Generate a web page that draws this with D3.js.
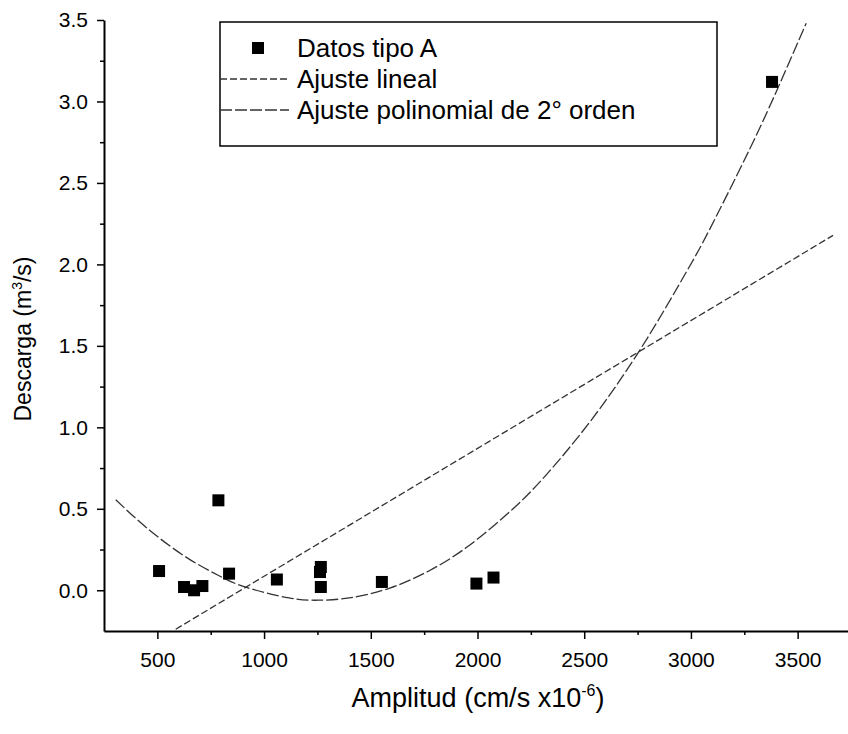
<!DOCTYPE html>
<html>
<head>
<meta charset="utf-8">
<script src="https://cdn.jsdelivr.net/npm/d3@7"></script>
<style>
  body { margin: 0; background: #fff; }
  svg { display: block; }
  text { font-family: "Liberation Sans", Arial, sans-serif; fill: #000; }
</style>
</head>
<body>
<svg id="chart" width="848" height="734"></svg>
<script>
// ---- data ----
const pointX = [508, 625, 672, 711, 786, 836, 1060, 1262, 1266, 1266, 1552, 1995, 2075, 3380];
const pointY = [0.118, 0.02, 0.0, 0.026, 0.552, 0.102, 0.066, 0.112, 0.143, 0.02, 0.051, 0.041, 0.078, 3.12];

const linearX = [586, 3666];
const linearY = [-0.239, 2.178];

const polyX = [305, 399, 508, 649, 789, 914, 1117, 1258, 1399, 1586, 1774, 1961, 2164, 2321, 2524, 2766, 2977, 3086, 3274, 3415, 3540];
const polyY = [0.556, 0.441, 0.322, 0.191, 0.089, 0.019, -0.047, -0.061, -0.047, 0.012, 0.120, 0.275, 0.497, 0.707, 1.029, 1.485, 1.950, 2.211, 2.704, 3.105, 3.480];

const xTicks = [500, 1000, 1500, 2000, 2500, 3000, 3500];
const xMinor = [750, 1250, 1750, 2250, 2750, 3250, 3750];
const yTicks = [0.0, 0.5, 1.0, 1.5, 2.0, 2.5, 3.0, 3.5];
const yMinor = [0.25, 0.75, 1.25, 1.75, 2.25, 2.75, 3.25];

const legendLabels = ["Datos tipo A", "Ajuste lineal", "Ajuste polinomial de 2° orden"];

// ---- drawing ----
const svg = d3.select("#chart");
const x = d3.scaleLinear().domain([250, 3750]).range([104, 851]);
const y = d3.scaleLinear().domain([-0.25, 3.5]).range([631, 20]);

const ax = svg.append("g");

// x axis
const xAxis = ax.append("g").attr("transform", `translate(0,${y(-0.25)})`);
xAxis.call(d3.axisBottom(x).tickValues(xTicks).tickSize(8).tickSizeOuter(0).tickPadding(13).tickFormat(d3.format("d")));
xAxis.append("g").call(d3.axisBottom(x).tickValues(xMinor).tickSize(4).tickSizeOuter(0).tickFormat(""))
  .select(".domain").remove();
xAxis.selectAll(".domain").attr("stroke-width", 2);
xAxis.selectAll(".tick line").attr("stroke-width", 1.5);
xAxis.selectAll(".tick text").style("font-size", "21px").style("font-family", "Liberation Sans, Arial, sans-serif");

// y axis
const yAxis = ax.append("g").attr("transform", `translate(${x(250)},0)`);
yAxis.call(d3.axisLeft(y).tickValues(yTicks).tickSize(7).tickSizeOuter(0).tickPadding(9).tickFormat(d3.format(".1f")));
yAxis.append("g").call(d3.axisLeft(y).tickValues(yMinor).tickSize(4).tickSizeOuter(0).tickFormat(""))
  .select(".domain").remove();
yAxis.selectAll(".domain").attr("stroke-width", 2);
yAxis.selectAll(".tick line").attr("stroke-width", 1.5);
yAxis.selectAll(".tick text").style("font-size", "21px").style("font-family", "Liberation Sans, Arial, sans-serif");

// axis titles
const xt = svg.append("text").attr("x", 478).attr("y", 707).attr("text-anchor", "middle").style("font-size", "27px");
xt.append("tspan").text("Amplitud (cm/s x10");
xt.append("tspan").attr("dy", -11).style("font-size", "16px").text("-6");
xt.append("tspan").attr("dy", 11).text(")");

const yt = svg.append("text").attr("transform", "translate(31,339) rotate(-90)").attr("text-anchor", "middle").style("font-size", "23px");
yt.append("tspan").text("Descarga (m");
yt.append("tspan").attr("dy", -9).style("font-size", "14px").text("3");
yt.append("tspan").attr("dy", 9).text("/s)");

// fit lines
const line = d3.line().x(d => x(d[0])).y(d => y(d[1]));
svg.append("path")
  .datum(linearX.map((v, i) => [v, linearY[i]]))
  .attr("d", line)
  .attr("fill", "none").attr("stroke", "#333").attr("stroke-width", 1.3).attr("stroke-dasharray", "7,3");

svg.append("path")
  .datum(polyX.map((v, i) => [v, polyY[i]]))
  .attr("d", d3.line().x(d => x(d[0])).y(d => y(d[1])).curve(d3.curveNatural))
  .attr("fill", "none").attr("stroke", "#333").attr("stroke-width", 1.3).attr("stroke-dasharray", "12,3");

// points
const s = 12;
svg.append("g").selectAll("rect")
  .data(pointX.map((v, i) => [v, pointY[i]]))
  .join("rect")
  .attr("x", d => x(d[0]) - s / 2).attr("y", d => y(d[1]) - s / 2)
  .attr("width", s).attr("height", s).attr("fill", "#000");

// legend
const lg = svg.append("g");
lg.append("rect").attr("x", 220).attr("y", 22).attr("width", 497).attr("height", 124)
  .attr("fill", "none").attr("stroke", "#000").attr("stroke-width", 1.5);
const rowY = [48, 79, 110];
lg.append("rect").attr("x", 258 - s / 2).attr("y", rowY[0] - s / 2).attr("width", s).attr("height", s).attr("fill", "#000");
lg.append("line").attr("x1", 220).attr("x2", 289).attr("y1", rowY[1]).attr("y2", rowY[1])
  .attr("stroke", "#333").attr("stroke-width", 1.3).attr("stroke-dasharray", "7,3");
lg.append("line").attr("x1", 220).attr("x2", 289).attr("y1", rowY[2]).attr("y2", rowY[2])
  .attr("stroke", "#333").attr("stroke-width", 1.3).attr("stroke-dasharray", "12,3");
lg.selectAll("text.lab").data(legendLabels).join("text").attr("class", "lab")
  .attr("x", 297).attr("y", (d, i) => rowY[i]).attr("dy", "0.36em")
  .style("font-size", "26px").text(d => d);
</script>
</body>
</html>
